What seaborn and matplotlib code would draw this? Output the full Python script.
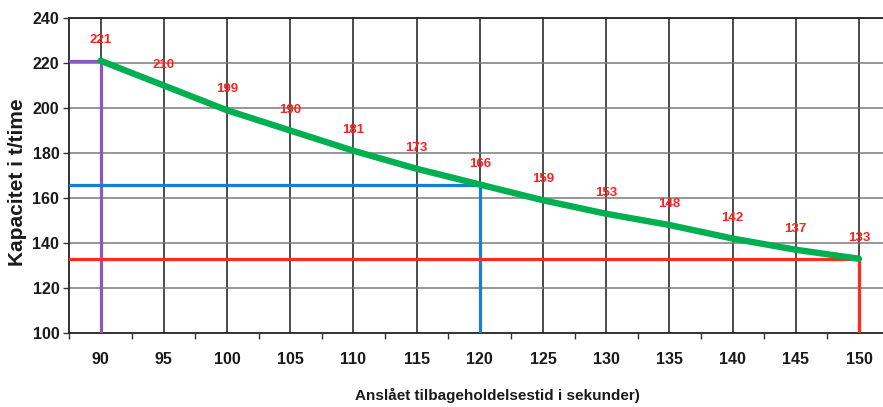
import numpy as np
import pandas as pd
import matplotlib
matplotlib.use("Agg")
import matplotlib.pyplot as plt
import seaborn as sns

# data
tider = [90, 95, 100, 105, 110, 115, 120, 125, 130, 135, 140, 145, 150]
kapacitet = [221, 210, 199, 190, 181, 173, 166, 159, 153, 148, 142, 137, 133]
markerede = [90, 120, 150]
markering_farver = ["#8e55c4", "#1a7fd0", "#ff2b1c"]

sns.set_theme(style="white")
plt.rcParams['font.family'] = ['Liberation Sans', 'DejaVu Sans']

df = pd.DataFrame({"tid": tider, "kap": kapacitet})

fig = plt.figure(figsize=(8.83, 4.07), dpi=100)
ax = fig.add_axes([69 / 883, 74 / 407, 814 / 883, 315 / 407])

xmin, xmax = 87.5, 151.9
ymin, ymax = 100, 240

# gitter
for x in tider:
    ax.axvline(x, color="#1a1a1a", lw=1.1, zorder=1)
for y in range(120, 241, 20):
    ax.axhline(y, color="#7a7a7a", lw=1.1, zorder=1)

# markeringslinjer
for t, farve in zip(markerede, markering_farver):
    k = kapacitet[tider.index(t)]
    ax.plot([xmin, t, t], [k, k, ymin + 0.6], color=farve, lw=2.3,
            solid_joinstyle="miter", zorder=3)

sns.lineplot(data=df, x="tid", y="kap", color="#00b050", lw=4.6, ax=ax,
             zorder=4)

for t, k in zip(tider, kapacitet):
    ax.annotate(str(k), (t, k), textcoords="offset points", xytext=(0, 15),
                ha="center", va="center", color="#ff2020", fontsize=9.5,
                fontweight="bold", zorder=5)

ax.set_xlim(xmin, xmax)
ax.set_ylim(ymin, ymax)
ax.set_xticks(tider)
ax.set_xticks(np.arange(87.5, 151, 5), minor=True)
ax.set_yticks(range(100, 241, 20))
ax.tick_params(axis="x", which="major", length=0, pad=14, labelsize=11.5)
ax.tick_params(axis="x", which="minor", length=4, width=1, color="#333333",
               bottom=True, direction="out")
ax.tick_params(axis="y", length=4, width=1, color="#333333", left=True,
               pad=3, labelsize=11.5)
for lbl in ax.get_xticklabels() + ax.get_yticklabels():
    lbl.set_fontweight("bold")
    lbl.set_color("#1a1a1a")

ax.set_xlabel("")
ax.set_ylabel("")
for side in ["left", "bottom", "top"]:
    ax.spines[side].set_color("#222222")
    ax.spines[side].set_linewidth(1.3)
ax.spines["right"].set_visible(False)

fig.text(497 / 883, 1 - 395 / 407, "Anslået tilbageholdelsestid i sekunder)",
         ha="center", va="center", fontsize=11, fontweight="bold",
         color="#1a1a1a")
fig.text(18 / 883, 1 - 182 / 407, "Kapacitet i t/time", rotation=90,
         ha="center", va="center", fontsize=15, fontweight="bold",
         color="#1a1a1a")

fig.savefig("out.png", dpi=100)
